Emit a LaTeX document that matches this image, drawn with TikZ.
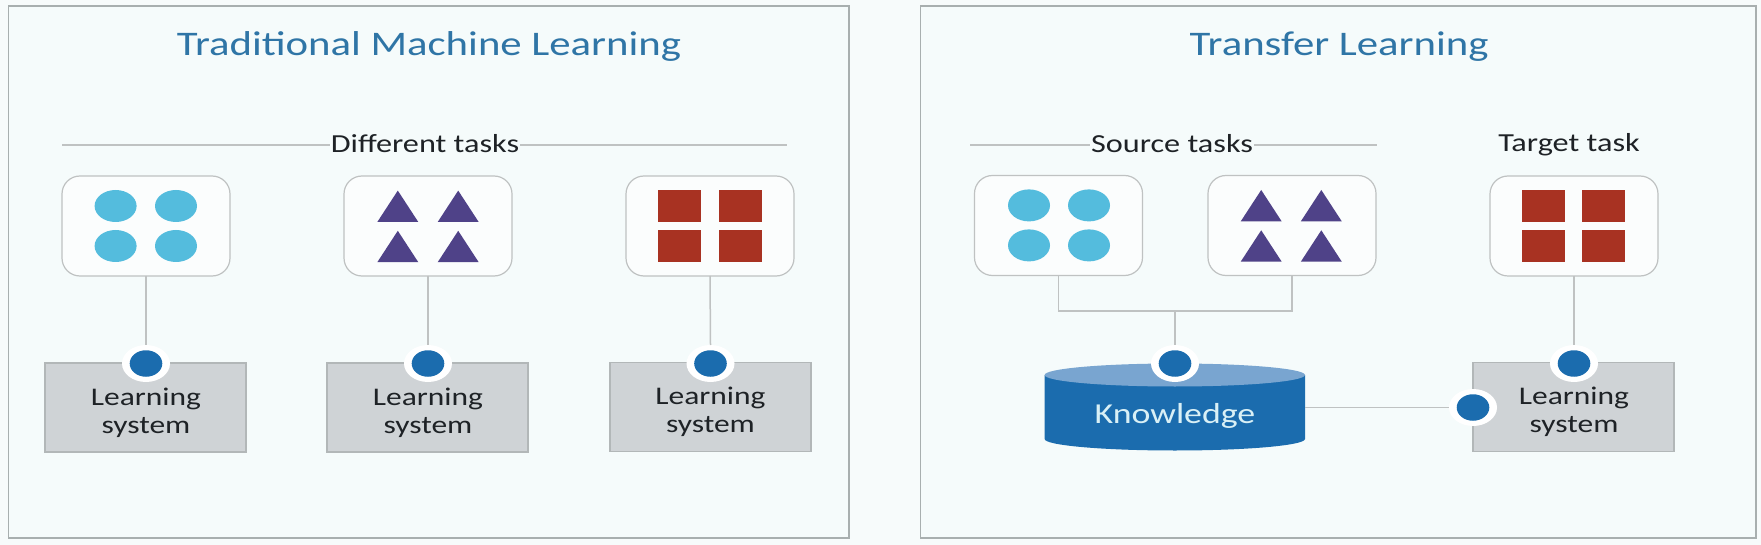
\documentclass[tikz,border=0pt]{standalone}
\usepackage{fontspec}
\setmainfont{Carlito}
\usetikzlibrary{shapes.geometric}
\definecolor{bgc}{HTML}{F7FBFB}
\definecolor{panelc}{HTML}{F5FBFB}
\definecolor{framec}{HTML}{A8AFAF}
\definecolor{linec}{HTML}{BFC2C2}
\definecolor{titlec}{HTML}{2F75A6}
\definecolor{inkc}{HTML}{1E2226}
\definecolor{circc}{HTML}{54BCDD}
\definecolor{tric}{HTML}{4F4288}
\definecolor{sqc}{HTML}{A83222}
\definecolor{grayc}{HTML}{CFD3D6}
\definecolor{grayb}{HTML}{B2B7B8}
\definecolor{dotc}{HTML}{1B6CAE}
\definecolor{capc}{HTML}{79A5D0}
\definecolor{knowc}{HTML}{D9F0F6}
\newcommand\sx[1]{\scalebox{1.24}[1]{#1}}
\newcommand\circfour[4]{% x1 x2 y1 y2
  \foreach \xx in {#1,#2}\foreach \yy in {#3,#4}
    \fill[circc] (\xx,\yy) ellipse [x radius=21pt,y radius=16pt];}
\newcommand\trifour[4]{%
  \foreach \xx in {#1,#2}\foreach \yy in {#3,#4}
    \fill[tric] (\xx-20.5,\yy+15.7) -- (\xx,\yy-15.7) -- (\xx+20.5,\yy+15.7) -- cycle;}
\newcommand\sqfour[4]{%
  \foreach \xx in {#1,#2}\foreach \yy in {#3,#4}
    \fill[sqc] (\xx-21.5,\yy-16) rectangle (\xx+21.5,\yy+16);}
\tikzset{
  panel/.style={draw=framec,fill=panelc,line width=1.5pt,rectangle,inner sep=0pt,outer sep=0pt},
  titletext/.style={text=titlec,font=\fontsize{34.5}{40}\selectfont,inner sep=0pt},
  headtext/.style={text=inkc,font=\fontsize{26}{30}\selectfont,inner sep=1pt},
  taskbox/.style={draw=linec,fill=panelc!40!white,line width=1.2pt,rectangle,rounded corners=18pt,minimum width=168pt,minimum height=100pt,inner sep=0pt,outer sep=0pt},
  learnbox/.style={draw=grayb,fill=grayc,line width=1.2pt,rectangle,minimum width=201pt,minimum height=89pt,inner sep=0pt,outer sep=0pt},
  learntext/.style={text=inkc,align=center,font=\fontsize{25.4}{28.5}\selectfont,inner sep=0pt},
  conn/.style={draw=linec,line width=1.5pt},
  halo/.style={ellipse,fill=white,minimum width=48pt,minimum height=37pt,inner sep=0pt,outer sep=0pt},
  dotnode/.style={ellipse,fill=dotc,minimum width=32.6pt,minimum height=26.5pt,inner sep=0pt,outer sep=0pt},
  guide/.style={inner sep=0pt,outer sep=0pt,minimum size=0pt}
}
\begin{document}
\begin{tikzpicture}[x=1pt,y=-1pt]
\useasboundingbox (0,0) rectangle (1761,545);
\fill[bgc] (0,0) rectangle (1761,545);
% panels
\node[panel,minimum width=840.5pt,minimum height=532pt] (pl) at (428.75,272) {};
\node[panel,minimum width=835.5pt,minimum height=532pt] (pr) at (1338.25,272) {};
\node[titletext] (tl) at (429,46.5) {\sx{Traditional Machine Learning}};
\node[titletext] (tr) at (1339,46.5) {\sx{Transfer Learning}};
% headings
\node[headtext] (dt) at (425,143.5) {\sx{Different tasks}};
\node[headtext] (st) at (1172,143.5) {\sx{Source tasks}};
\node[headtext] (tt) at (1569,145) {\sx{Target task}};
\coordinate (dl) at (62,145); \coordinate (dr) at (787,145);
\coordinate (sl) at (970,145); \coordinate (sr) at (1377,145);
\draw[conn] (dl) -- (dl-|dt.west);
\draw[conn] (dr-|dt.east) -- (dr);
\draw[conn] (sl) -- (sl-|st.west);
\draw[conn] (sr-|st.east) -- (sr);
% task boxes
\node[taskbox] (a1) at (146,226) {};
\node[taskbox] (a2) at (428,226) {};
\node[taskbox] (a3) at (710,226) {};
\node[taskbox] (b1) at (1058.5,225.5) {};
\node[taskbox] (b2) at (1292,225.5) {};
\node[taskbox] (b3) at (1574,226) {};
\circfour{115.6}{176}{206}{246}
\trifour{397.8}{458.2}{206.3}{246.5}
\sqfour{679.5}{740.3}{206}{246}
\circfour{1029}{1089}{205.4}{245.4}
\trifour{1261.2}{1321.3}{205.7}{246}
\sqfour{1543.7}{1603.4}{206}{246}
% learning boxes
\node[learnbox] (l1) at (145.5,407.5) {};
\node[learnbox] (l2) at (427.5,407.5) {};
\node[learnbox] (l3) at (710.5,407) {};
\node[learnbox] (l4) at (1573.5,407) {};
\node[learntext] (lt1) at (146,413) {\sx{Learning}\\\sx{system}};
\node[learntext] (lt2) at (428,413) {\sx{Learning}\\\sx{system}};
\node[learntext] (lt3) at (710.5,412) {\sx{Learning}\\\sx{system}};
\node[learntext] (lt4) at (1574,412) {\sx{Learning}\\\sx{system}};
% cylinder
\fill[dotc] (1044.6,375) -- (1044.6,439) arc[start angle=180,end angle=360,x radius=130.2pt,y radius=11.5pt] -- (1305,375) -- cycle;
\fill[capc] (1174.8,375) ellipse [x radius=130.2pt,y radius=11.5pt];
\node[guide,minimum width=260.4pt,minimum height=60pt] (kn) at (1174.8,407.5) {};
\node[text=knowc,font=\fontsize{28.9}{33}\selectfont,inner sep=0pt] (kt) at (1175,416) {\sx{Knowledge}};
% halos
\node[halo] (h1) at (146,363.5) {};
\node[halo] (h2) at (428,363.5) {};
\node[halo] (h3) at (710.5,363.5) {};
\node[halo] (h4) at (1175,363.5) {};
\node[halo] (h5) at (1574,363.5) {};
\node[halo] (h6) at (1473,407.5) {};
\node[dotnode] (d1) at (h1) {};
\node[dotnode] (d2) at (h2) {};
\node[dotnode] (d3) at (h3) {};
\node[dotnode] (d4) at (h4) {};
\node[dotnode] (d5) at (h5) {};
\node[dotnode] (d6) at (h6) {};
% connectors
\draw[conn] (a1.south) -- (h1.north);
\draw[conn] (a2.south) -- (h2.north);
\draw[conn] (a3.south) -- (h3.north);
\draw[conn] (b3.south) -- (h5.north);
\coordinate (jn) at (1175,311);
\draw[conn] (b1.south) |- (jn) -| (b2.south);
\draw[conn] (jn) -- (h4.north);
\draw[conn] (kn.east) -- (h6.west);
\end{tikzpicture}
\end{document}
